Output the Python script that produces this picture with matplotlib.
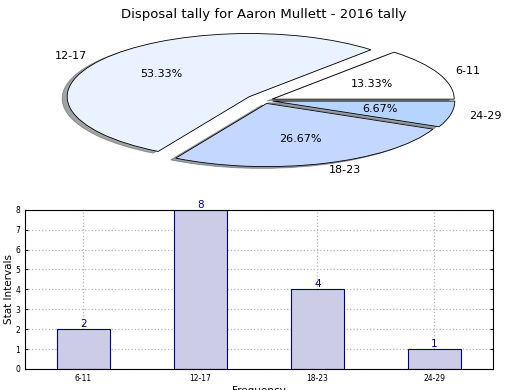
import numpy as np
import matplotlib
matplotlib.use("Agg")
import matplotlib.pyplot as plt

categories = ["6-11", "12-17", "18-23", "24-29"]
counts = [2, 8, 4, 1]
pie_colors = ["#ffffff", "#eaf1ff", "#c4d7ff", "#b5d5ff"]
explode = [0.05, 0.1, 0.05, 0.05]

fig = plt.figure(figsize=(5.2, 3.9), dpi=100)

# pie on top, squashed into an ellipse
ax1 = fig.add_axes([0.07, 0.54, 0.875, 0.405])
wedges, texts, autotexts = ax1.pie(counts, labels=categories, colors=pie_colors,
                                   explode=explode, autopct="%.2f%%", shadow=True,
                                   startangle=0, labeldistance=1.1, pctdistance=0.6,
                                   wedgeprops=dict(edgecolor="black", linewidth=0.6),
                                   textprops=dict(fontsize=8))
ax1.set_aspect("auto")
ax1.set_xlim(-1.25, 1.25)
ax1.set_ylim(-1.25, 1.25)
ax1.set_title("Disposal tally for Aaron Mullett - 2016 tally", fontsize=9.5, pad=2)

# bar chart below
ax2 = fig.add_axes([0.048, 0.054, 0.9, 0.408])
x = np.arange(len(categories))
ax2.bar(x, counts, width=0.45, color="#ccccE6", edgecolor="navy", linewidth=0.8, zorder=2)
for xi, c in zip(x, counts):
    ax2.text(xi, c, str(c), ha="center", va="bottom", color="navy", fontsize=7.5)
ax2.set_xlim(-0.5, 3.5)
ax2.set_ylim(0, 8)
ax2.set_xticks(x)
ax2.set_xticklabels(categories)
ax2.set_yticks(range(0, 9))
ax2.tick_params(labelsize=5.5, direction="in", right=True, top=False, length=2)
ax2.grid(True, linestyle=":", color="#b8b8b8", linewidth=0.9, zorder=0)
ax2.set_ylabel("Stat Intervals", fontsize=7.5, labelpad=1)
ax2.set_xlabel("Frequency", fontsize=7.5, labelpad=2)

plt.savefig("out.png", dpi=100)
